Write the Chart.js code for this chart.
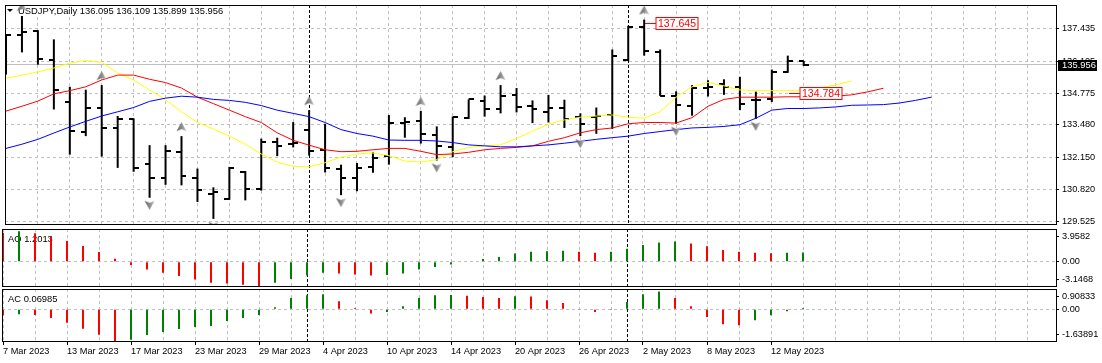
<!DOCTYPE html>
<html>
<head>
<meta charset="utf-8">
<title>USDJPY Daily</title>
<script src="https://cdn.jsdelivr.net/npm/chart.js@4.4.1/dist/chart.umd.min.js"></script>
<style>
  html, body { margin: 0; padding: 0; background: #fff; }
  #wrap { position: relative; width: 1102px; height: 363px; overflow: hidden; }
  #wrap canvas { position: absolute; left: 0; }
</style>
</head>
<body>
<div id="wrap">
  <canvas id="price" width="1102" height="230" style="top:0px"></canvas>
  <canvas id="ao" width="1102" height="60" style="top:228px"></canvas>
  <canvas id="ac" width="1102" height="75" style="top:288px"></canvas>
</div>
<script>
// --- data ---
const symbol = 'USDJPY';
const period = 'Daily';

const dates = [
  '7 Mar 2023', '8 Mar 2023', '9 Mar 2023', '10 Mar 2023', '13 Mar 2023', '14 Mar 2023', '15 Mar 2023',
  '16 Mar 2023', '17 Mar 2023', '20 Mar 2023', '21 Mar 2023', '22 Mar 2023', '23 Mar 2023', '24 Mar 2023',
  '27 Mar 2023', '28 Mar 2023', '29 Mar 2023', '30 Mar 2023', '31 Mar 2023', '3 Apr 2023', '4 Apr 2023',
  '5 Apr 2023', '6 Apr 2023', '7 Apr 2023', '10 Apr 2023', '11 Apr 2023', '12 Apr 2023', '13 Apr 2023',
  '14 Apr 2023', '17 Apr 2023', '18 Apr 2023', '19 Apr 2023', '20 Apr 2023', '21 Apr 2023', '24 Apr 2023',
  '25 Apr 2023', '26 Apr 2023', '27 Apr 2023', '28 Apr 2023', '1 May 2023', '2 May 2023', '3 May 2023',
  '4 May 2023', '5 May 2023', '8 May 2023', '9 May 2023', '10 May 2023', '11 May 2023', '12 May 2023',
  '15 May 2023', '16 May 2023'
];

const open = [135.95, 137.155, 137.327, 136.138, 134.418, 133.177, 134.177, 133.353, 133.713, 131.856,
  131.284, 132.377, 131.284, 130.644, 130.415, 131.552, 130.844, 132.777, 132.685, 133.257,
  132.444, 131.656, 131.284, 131.752, 132.193, 133.565, 133.657, 133.045, 132.577, 133.777,
  134.445, 134.113, 134.714, 134.257, 134.017, 134.153, 133.793, 133.793, 133.885, 136.126,
  137.487, 136.487, 134.686, 134.245, 134.994, 135.154, 135.018, 134.514, 134.554, 135.646, 136.095];
const high = [137.195, 137.955, 137.37, 136.995, 135.046, 134.926, 135.114, 133.845, 133.745, 132.645,
  132.645, 133.017, 131.684, 130.912, 131.752, 131.58, 132.913, 132.953, 133.593, 134.085,
  133.525, 131.844, 131.912, 132.353, 133.885, 133.793, 134.057, 133.417, 133.817, 134.526,
  134.686, 135.114, 134.994, 134.486, 134.714, 134.514, 133.953, 134.193, 136.579, 137.555,
  137.807, 136.579, 134.858, 135.114, 135.314, 135.354, 135.458, 134.846, 135.754, 136.326, 136.109];
const low = [135.554, 136.459, 135.954, 134.113, 132.256, 133.017, 132.176, 131.712, 131.552, 130.483,
  131.016, 130.992, 130.312, 129.615, 130.40, 130.376, 130.776, 132.193, 132.553, 132.216,
  131.524, 130.592, 130.752, 131.512, 131.844, 132.953, 132.713, 132.016, 132.152, 133.725,
  133.817, 133.953, 133.993, 133.553, 133.577, 133.353, 133.017, 133.113, 133.313, 136.10,
  136.326, 134.67, 133.525, 133.857, 134.646, 134.714, 134.085, 133.725, 134.418, 135.62, 135.899];
const close = [137.155, 137.315, 136.178, 134.914, 133.217, 134.177, 133.353, 133.713, 131.712, 131.284,
  132.417, 131.376, 130.816, 130.712, 131.724, 130.856, 132.777, 132.617, 132.745, 132.417,
  131.712, 131.284, 131.712, 132.112, 133.553, 133.605, 133.113, 132.593, 133.793, 134.526,
  134.125, 134.658, 134.217, 134.113, 134.193, 133.725, 133.513, 133.845, 136.314, 137.507,
  136.515, 134.686, 134.285, 134.994, 135.046, 135.046, 134.325, 134.485, 135.646, 136.114, 135.956];

// Alligator lines (jaw/teeth/lips run past the last bar)
const jaw = [132.513, 132.685, 132.885, 133.145, 133.393, 133.625, 133.845, 134.017, 134.193, 134.446,
  134.578, 134.658, 134.618, 134.526, 134.486, 134.406, 134.273, 134.085, 133.953, 133.817,
  133.577, 133.285, 133.125, 133.017, 132.857, 132.845, 132.845, 132.817, 132.753, 132.657,
  132.617, 132.577, 132.577, 132.617, 132.657, 132.725, 132.805, 132.885, 132.953, 133.017,
  133.125, 133.205, 133.285, 133.353, 133.377, 133.417, 133.485, 133.753, 134.085, 134.153,
  134.153, 134.177, 134.217, 134.285, 134.297, 134.313, 134.377, 134.486, 134.618];
const teeth = [134.045, 134.245, 134.458, 134.754, 134.886, 135.046, 135.326, 135.526, 135.526, 135.354,
  135.218, 134.994, 134.618, 134.353, 134.085, 133.817, 133.577, 133.153, 132.845, 132.645,
  132.457, 132.377, 132.393, 132.457, 132.513, 132.513, 132.393, 132.256, 132.284, 132.352,
  132.457, 132.513, 132.553, 132.617, 132.805, 132.953, 133.153, 133.285, 133.353, 133.525,
  133.577, 133.577, 133.553, 133.777, 134.245, 134.526, 134.618, 134.618, 134.618, 134.634,
  134.634, 134.646, 134.658, 134.714, 134.834, 134.986];
const lips = [135.394, 135.526, 135.658, 135.818, 136.018, 136.126, 136.046, 135.618, 135.326, 134.914,
  134.514, 134.017, 133.577, 133.313, 133.017, 132.685, 132.284, 131.952, 131.776, 131.752,
  131.924, 132.152, 132.284, 132.324, 132.216, 131.992, 131.952, 132.056, 132.377, 132.553,
  132.617, 132.657, 132.925, 133.217, 133.513, 133.685, 133.793, 133.845, 133.885, 133.793,
  133.753, 134.017, 134.618, 135.046, 135.218, 135.086, 134.914, 134.886, 134.886, 134.886,
  134.914, 134.994, 135.126, 135.286];

const fractalUp = [1, 6, 11, 19, 26, 31, 40];
const fractalDown = [9, 13, 21, 27, 36, 42, 47];

const ao = [3.77, 3.9582, 3.68, 3.21, 2.69, 2.04, 1.26, 0.39, -0.43, -1.00,
  -1.43, -1.86, -2.30, -2.73, -2.82, -2.99, -3.1468, -2.73, -2.25, -1.78,
  -1.43, -1.52, -1.65, -1.78, -1.73, -1.52, -1.00, -0.69, -0.35, 0.05,
  0.35, 0.61, 1.08, 1.30, 1.36, 1.41, 1.29, 1.17, 1.29, 1.69,
  2.17, 2.49, 2.61, 2.37, 2.01, 1.53, 1.29, 1.17, 1.10, 1.15, 1.2013];
const ac = [-0.31, -0.26, -0.29, -0.44, -0.69, -1.00, -1.31, -1.63891, -1.56, -1.32,
  -1.16, -1.01, -0.91, -0.86, -0.60, -0.45, -0.29, 0.10, 0.58, 0.72,
  0.77, 0.41, 0.07, -0.21, -0.14, 0.15, 0.58, 0.72, 0.73, 0.70,
  0.63, 0.58, 0.67, 0.65, 0.46, 0.32, -0.04, -0.14, -0.03, 0.37,
  0.77, 0.90833, 0.58, 0.15, -0.39, -0.77, -0.82, -0.56, -0.31, -0.10, 0.06985];

const priceTicks = [137.435, 136.105, 134.775, 133.480, 132.150, 130.820, 129.525];
const aoTicks = [3.9582, 0, -3.1468];
const aoTickLabels = ['3.9582', '0.00', '-3.1468'];
const acTicks = [0.90833, 0, -1.63891];
const acTickLabels = ['0.90833', '0.00', '-1.63891'];

const tagBars = [40, 49];
const tagPrices = [137.645, 134.784];

// --- helpers ---
const last = close.length - 1;
const bid = close[last];
const FONT = '9.4px "Liberation Sans", Arial, sans-serif';
const X_MIN = -0.0625, X_MAX = 65.875;
const gridSteps = [];
for (let v = 0; v <= 64; v += 2) gridSteps.push(v);
const monthOf = d => d.split(' ')[1];
const monthStarts = dates.map((d, i) => i).filter(i => i > 0 && monthOf(dates[i]) !== monthOf(dates[i - 1]));

const idx = arr => arr.map((v, i) => ({x: i, y: v}));
const histColors = vals => vals.map((v, i) => (i > 0 && v > vals[i - 1]) ? '#008000' : '#ff0000');
const clampTick = (v, min, max, h) => {
  const m = 7.5 * (max - min) / h;
  return Math.max(min + m, Math.min(max - m, v));
};

function tickMark(side) {
  const c = document.createElement('canvas');
  c.width = 10; c.height = 2;
  const g = c.getContext('2d');
  g.fillStyle = '#000';
  g.fillRect(side < 0 ? 0 : 5, 0, 5, 2);
  return c;
}

// grey arrowhead, offset inside a tall canvas so it sits clear of the bar
function fractalMark(up) {
  const c = document.createElement('canvas');
  c.width = 11; c.height = 30;
  const g = c.getContext('2d');
  const t = up ? 1 : 18;
  g.beginPath();
  if (up) {
    g.moveTo(5.5, t); g.lineTo(10.5, t + 9); g.lineTo(5.5, t + 7); g.lineTo(0.5, t + 9);
  } else {
    g.moveTo(5.5, t + 9); g.lineTo(10.5, t); g.lineTo(5.5, t + 2); g.lineTo(0.5, t);
  }
  g.closePath();
  const gr = g.createLinearGradient(0, 0, 11, 0);
  gr.addColorStop(0, '#5e5e5e');
  gr.addColorStop(0.5, '#8a8a8a');
  gr.addColorStop(1, '#c8ccd4');
  g.fillStyle = gr;
  g.fill();
  return c;
}

Chart.defaults.font.family = '"Liberation Sans", Arial, sans-serif';
Chart.defaults.font.size = 9.2;
Chart.defaults.color = '#000';
Chart.defaults.animation = false;
Chart.defaults.events = [];
Chart.defaults.plugins.legend.display = false;
Chart.defaults.plugins.tooltip.enabled = false;

// frame, separators, header text
const panelPlugin = {
  id: 'panel',
  beforeDatasetsDraw(chart, args, o) {
    const {ctx, chartArea: a, scales: {x, y}} = chart;
    ctx.save();
    ctx.lineWidth = 1;
    if (o.bid !== undefined) {
      const py = Math.round(y.getPixelForValue(o.bid) - 0.5) + 0.5;
      ctx.strokeStyle = '#c0c0c0';
      ctx.beginPath(); ctx.moveTo(a.left, py); ctx.lineTo(a.right, py); ctx.stroke();
    }
    ctx.strokeStyle = '#000';
    ctx.setLineDash([3, 2]);
    monthStarts.forEach(i => {
      const px = Math.round(x.getPixelForValue(i)) + 0.5;
      ctx.beginPath(); ctx.moveTo(px, a.top); ctx.lineTo(px, a.bottom); ctx.stroke();
    });
    ctx.setLineDash([]);
    ctx.font = FONT;
    ctx.textAlign = 'left';
    ctx.textBaseline = 'alphabetic';
    const w = ctx.measureText(o.text).width;
    ctx.fillStyle = '#fff';
    ctx.fillRect(o.x - 1, o.y - 8, w + 2, 11);
    ctx.fillStyle = '#000';
    ctx.fillText(o.text, o.x, o.y);
    if (o.arrow) {
      ctx.beginPath(); ctx.moveTo(7, 9); ctx.lineTo(13, 9); ctx.lineTo(10, 12); ctx.closePath(); ctx.fill();
    }
    ctx.restore();
  },
  afterDraw(chart) {
    const {ctx, chartArea: a} = chart;
    ctx.save();
    ctx.strokeStyle = '#000';
    ctx.lineWidth = 1;
    ctx.strokeRect(a.left + 0.5, a.top + 0.5, a.right - a.left - 1, a.bottom - a.top - 1);
    ctx.restore();
  }
};

// red price tags and the bid box on the price axis
const tagPlugin = {
  id: 'tags',
  afterDatasetsDraw(chart) {
    const {ctx, scales: {x, y}} = chart;
    ctx.save();
    ctx.font = '10.5px "Liberation Sans", Arial, sans-serif';
    ctx.textAlign = 'center';
    ctx.textBaseline = 'middle';
    ctx.lineWidth = 1;
    tagBars.forEach((b, k) => {
      const px = Math.round(x.getPixelForValue(b)) + 1;
      const py = Math.round(y.getPixelForValue(tagPrices[k]) - 0.5) + 0.5;
      const txt = tagPrices[k].toFixed(3);
      const w = Math.ceil(ctx.measureText(txt).width) + 4;
      ctx.strokeStyle = '#ff0000';
      ctx.beginPath(); ctx.moveTo(px, py); ctx.lineTo(px + 11, py); ctx.stroke();
      ctx.fillStyle = '#fff';
      ctx.fillRect(px + 11, py - 6, w, 12);
      ctx.strokeRect(px + 11, py - 6, w, 12);
      ctx.fillStyle = '#ff0000';
      ctx.fillText(txt, px + 11 + w / 2, py + 0.5);
    });
    ctx.restore();
  },
  afterDraw(chart) {
    const {ctx, chartArea: a, scales: {y}} = chart;
    const py = Math.round(y.getPixelForValue(bid));
    ctx.save();
    ctx.fillStyle = '#000';
    ctx.fillRect(a.right + 1, py - 5, 39, 11);
    ctx.fillStyle = '#fff';
    ctx.font = FONT;
    ctx.textAlign = 'left';
    ctx.textBaseline = 'middle';
    ctx.fillText(bid.toFixed(3), a.right + 5, py + 0.5);
    ctx.restore();
  }
};

function xAxis(showLabels) {
  const labelAt = v => v % 4 === 0 && v < dates.length;
  return {
    type: 'linear', min: X_MIN, max: X_MAX, offset: false,
    afterBuildTicks: s => { s.ticks = gridSteps.map(v => ({value: v})); },
    afterFit: s => { s.height = showLabels ? 21 : 0; s.paddingLeft = 0; s.paddingRight = 0; },
    grid: {
      offset: false, color: '#c0c0c0', lineWidth: 1,
      drawTicks: showLabels, tickLength: 3, tickWidth: 1,
      tickColor: c => (c.tick && labelAt(c.tick.value)) ? '#000' : 'rgba(0,0,0,0)'
    },
    border: {display: false, dash: [3, 3]},
    ticks: {
      display: showLabels, autoSkip: false, maxRotation: 0, minRotation: 0,
      align: 'start', padding: 1, color: '#000',
      callback: v => labelAt(v) ? dates[v] : ''
    }
  };
}

function yAxis(min, max, values, labels, zeroOnly, panelH) {
  return {
    type: 'linear', position: 'right', min: min, max: max,
    afterBuildTicks: s => {
      s.ticks = values.map(v => ({value: panelH ? clampTick(v, min, max, panelH) : v}));
    },
    afterFit: s => { s.width = 45; s.paddingTop = 0; s.paddingBottom = 0; },
    grid: {
      color: c => (!zeroOnly || (c.tick && c.tick.value === 0)) ? '#c0c0c0' : 'rgba(0,0,0,0)',
      lineWidth: 1, drawTicks: true, tickLength: 2, tickColor: '#000'
    },
    border: {display: false, dash: [3, 3]},
    ticks: {padding: 3, color: '#000', callback: (v, i) => labels[i]}
  };
}

const baseOptions = (pad) => ({
  responsive: false, maintainAspectRatio: false, devicePixelRatio: 1,
  layout: {padding: pad}
});

// --- price panel ---
const leftTick = tickMark(-1), rightTick = tickMark(1);
const upArrow = fractalMark(true), downArrow = fractalMark(false);
const hiLo = open.map((_, i) => ({x: i, y: [low[i], high[i]]}));
const lineSet = (data, color) => ({
  type: 'line', data: idx(data), borderColor: color, borderWidth: 1,
  pointRadius: 0, tension: 0, fill: false, order: 2
});

new Chart(document.getElementById('price'), {
  type: 'line',
  data: {
    datasets: [
      {type: 'bar', data: hiLo, backgroundColor: '#000', barThickness: 2, inflateAmount: 0, borderWidth: 0, order: 3},
      {type: 'line', data: idx(open), showLine: false, pointStyle: leftTick, pointRadius: 3, order: 3},
      {type: 'line', data: idx(close), showLine: false, pointStyle: rightTick, pointRadius: 3, order: 3},
      lineSet(jaw, '#0000ff'),
      lineSet(teeth, '#ff0000'),
      lineSet(lips, '#ffff00'),
      {type: 'line', data: fractalUp.map(i => ({x: i, y: high[i]})), showLine: false,
        pointStyle: upArrow, pointRadius: 3, clip: 0, order: 1},
      {type: 'line', data: fractalDown.map(i => ({x: i, y: low[i]})), showLine: false,
        pointStyle: downArrow, pointRadius: 3, clip: 0, order: 1}
    ]
  },
  options: Object.assign(baseOptions({left: 2, top: 2, right: 0, bottom: 2}), {
    scales: {
      x: xAxis(false),
      y: yAxis(129.3638, 138.4074, priceTicks, priceTicks.map(v => v.toFixed(3)), false, 0)
    },
    plugins: {
      panel: {
        text: symbol + ',' + period + ' ' + [open[last], high[last], low[last], close[last]].map(v => v.toFixed(3)).join(' '),
        x: 18, y: 14, arrow: true, bid: bid
      }
    }
  }),
  plugins: [panelPlugin, tagPlugin]
});

// --- Awesome Oscillator ---
new Chart(document.getElementById('ao'), {
  type: 'bar',
  data: {
    datasets: [{data: idx(ao), backgroundColor: histColors(ao), barThickness: 2, inflateAmount: 0, borderWidth: 0}]
  },
  options: Object.assign(baseOptions({left: 2, top: 1, right: 0, bottom: 1}), {
    scales: {
      x: xAxis(false),
      y: yAxis(-3.286, 4.247, aoTicks, aoTickLabels, true, 58)
    },
    plugins: {panel: {text: 'AO ' + ao[last].toFixed(4), x: 8, y: 14, arrow: false}}
  }),
  plugins: [panelPlugin]
});

// --- Accelerator Oscillator ---
new Chart(document.getElementById('ac'), {
  type: 'bar',
  data: {
    datasets: [{data: idx(ac), backgroundColor: histColors(ac), barThickness: 2, inflateAmount: 0, borderWidth: 0}]
  },
  options: Object.assign(baseOptions({left: 2, top: 1, right: 0, bottom: 0}), {
    scales: {
      x: xAxis(true),
      y: yAxis(-1.677, 1.041, acTicks, acTickLabels, true, 53)
    },
    plugins: {panel: {text: 'AC ' + ac[last].toFixed(5), x: 8, y: 14, arrow: false}}
  }),
  plugins: [panelPlugin]
});
</script>
</body>
</html>
